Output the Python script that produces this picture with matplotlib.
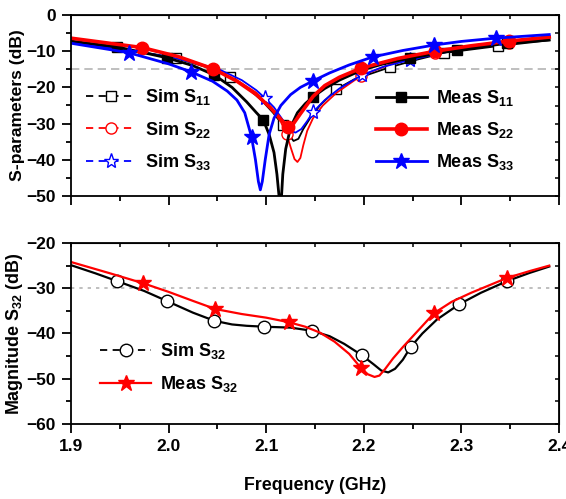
import numpy as np
import matplotlib
matplotlib.use('Agg')
import matplotlib.pyplot as plt
from matplotlib.lines import Line2D
from matplotlib.ticker import MultipleLocator

plt.rcParams['font.family'] = ['Liberation Sans', 'DejaVu Sans']
plt.rcParams['font.weight'] = 'bold'
plt.rcParams['mathtext.fontset'] = 'custom'
plt.rcParams['mathtext.rm'] = 'Liberation Sans:bold'
plt.rcParams['mathtext.bf'] = 'Liberation Sans:bold'
plt.rcParams['mathtext.default'] = 'bf'

# ---- top panel: reflection curves (GHz, dB) ----
f_sim11 = [1.90, 1.953, 2.008, 2.04, 2.063, 2.08, 2.095, 2.107, 2.117, 2.123, 2.128, 2.133, 2.138, 2.145, 2.155, 2.172, 2.19, 2.227, 2.255, 2.282, 2.337, 2.39]
s_sim11 = [-7.3, -9.3, -11.9, -14.5, -17.1, -20.0, -23.5, -27.0, -30.4, -33.0, -34.8, -34.2, -31.5, -28.5, -25.0, -20.5, -17.8, -14.4, -12.3, -10.5, -8.6, -7.0]
f_sim11_mk = [2.008, 2.063, 2.117, 2.172, 2.227, 2.282, 2.337]
s_sim11_mk = [-11.9, -17.1, -30.4, -20.5, -14.4, -10.5, -8.6]

f_sim22 = [1.90, 1.97, 2.01, 2.045, 2.07, 2.09, 2.105, 2.115, 2.121, 2.125, 2.129, 2.132, 2.135, 2.138, 2.142, 2.148, 2.158, 2.172, 2.197, 2.235, 2.273, 2.31, 2.349, 2.39]
s_sim22 = [-6.5, -9.0, -11.5, -14.9, -18.0, -21.5, -25.5, -29.5, -33.0, -36.5, -39.8, -40.6, -39.5, -36.0, -32.0, -28.5, -25.0, -21.5, -16.8, -12.8, -10.5, -8.9, -7.6, -6.3]
f_sim22_mk = [2.121, 2.197, 2.273, 2.349]
s_sim22_mk = [-33.0, -16.8, -10.5, -7.6]

f_sim33 = [1.90, 1.95, 2.00, 2.05, 2.075, 2.09, 2.099, 2.108, 2.117, 2.124, 2.13, 2.136, 2.142, 2.148, 2.16, 2.175, 2.198, 2.22, 2.247, 2.298, 2.347, 2.39]
s_sim33 = [-7.6, -9.5, -11.5, -14.8, -18.0, -20.8, -23.0, -25.5, -29.0, -31.8, -32.5, -31.5, -29.3, -26.8, -23.5, -20.3, -16.6, -14.3, -12.4, -9.5, -7.6, -6.4]
f_sim33_mk = [2.099, 2.148, 2.198, 2.247]
s_sim33_mk = [-23.0, -26.8, -16.6, -12.4]

f_meas11 = [1.90, 1.947, 1.998, 2.025, 2.047, 2.065, 2.08, 2.09, 2.097, 2.103, 2.108, 2.111, 2.1135, 2.1155, 2.117, 2.12, 2.125, 2.132, 2.14, 2.148, 2.16, 2.175, 2.198, 2.22, 2.247, 2.296, 2.347, 2.39]
s_meas11 = [-7.2, -8.8, -11.8, -14.0, -16.6, -20.0, -24.0, -27.0, -29.0, -33.0, -38.0, -44.0, -51.0, -51.0, -44.0, -37.0, -31.0, -27.0, -24.5, -22.6, -20.3, -18.0, -15.2, -13.5, -11.9, -9.7, -7.8, -6.9]
f_meas11_mk = [1.947, 1.998, 2.047, 2.097, 2.148, 2.247, 2.296, 2.347]
s_meas11_mk = [-8.8, -11.8, -16.6, -29.0, -22.6, -11.9, -9.7, -7.8]

f_meas22 = [1.90, 1.973, 2.01, 2.046, 2.07, 2.09, 2.105, 2.115, 2.122, 2.128, 2.135, 2.148, 2.16, 2.175, 2.197, 2.235, 2.273, 2.31, 2.349, 2.39]
s_meas22 = [-6.4, -9.0, -11.5, -14.9, -18.3, -22.0, -25.8, -28.8, -30.9, -30.0, -27.3, -22.5, -19.5, -17.2, -14.7, -12.0, -10.0, -8.5, -7.2, -6.1]
f_meas22_mk = [1.973, 2.046, 2.122, 2.197, 2.273, 2.349]
s_meas22_mk = [-9.0, -14.9, -30.9, -14.7, -10.0, -7.2]

f_meas33 = [1.90, 1.959, 2.00, 2.023, 2.045, 2.06, 2.07, 2.078, 2.085, 2.089, 2.092, 2.094, 2.096, 2.099, 2.103, 2.108, 2.115, 2.125, 2.135, 2.148, 2.165, 2.185, 2.209, 2.24, 2.272, 2.30, 2.335, 2.39]
s_meas33 = [-7.8, -10.4, -13.5, -15.7, -18.3, -21.0, -23.5, -27.0, -33.7, -40.0, -46.0, -48.3, -46.0, -40.0, -33.0, -28.5, -25.0, -22.0, -20.0, -18.2, -16.0, -13.8, -11.6, -9.8, -8.3, -7.3, -6.4, -5.4]
f_meas33_mk = [1.959, 2.023, 2.085, 2.148, 2.209, 2.272, 2.335]
s_meas33_mk = [-10.4, -15.7, -33.7, -18.2, -11.6, -8.3, -6.4]

# ---- bottom panel: isolation S32 ----
f_sim32 = [1.90, 1.925, 1.947, 1.975, 1.998, 2.025, 2.047, 2.065, 2.08, 2.098, 2.125, 2.147, 2.165, 2.18, 2.198, 2.21, 2.218, 2.225, 2.232, 2.24, 2.248, 2.26, 2.275, 2.298, 2.32, 2.347, 2.37, 2.39]
s_sim32 = [-24.9, -26.7, -28.4, -30.6, -32.8, -35.4, -37.2, -38.0, -38.3, -38.5, -38.7, -39.4, -40.6, -42.3, -44.8, -46.8, -48.2, -48.6, -47.8, -45.8, -43.0, -40.0, -36.9, -33.5, -31.0, -28.4, -26.6, -25.2]
f_sim32_mk = [1.947, 1.998, 2.047, 2.098, 2.147, 2.198, 2.248, 2.298, 2.347]
s_sim32_mk = [-28.4, -32.8, -37.2, -38.5, -39.4, -44.8, -43.0, -33.5, -28.4]

f_meas32 = [1.90, 1.94, 1.974, 2.00, 2.025, 2.048, 2.075, 2.10, 2.123, 2.14, 2.155, 2.17, 2.185, 2.197, 2.204, 2.211, 2.216, 2.222, 2.23, 2.24, 2.255, 2.272, 2.29, 2.31, 2.347, 2.37, 2.39]
s_meas32 = [-24.2, -26.7, -28.9, -30.8, -32.8, -34.6, -35.7, -36.5, -37.5, -38.5, -39.8, -41.8, -44.5, -47.6, -49.0, -49.6, -49.3, -47.8, -45.5, -43.0, -39.5, -35.5, -33.0, -31.0, -27.7, -26.2, -25.0]
f_meas32_mk = [1.974, 2.048, 2.123, 2.197, 2.272, 2.347]
s_meas32_mk = [-28.9, -34.6, -37.5, -47.6, -35.5, -27.7]

W, H = 566, 499
fig = plt.figure(figsize=(W / 100, H / 100), dpi=100)
ax1 = fig.add_axes([71 / W, 1 - 196 / H, 488 / W, 181 / H])
ax2 = fig.add_axes([71 / W, 1 - 424 / H, 488 / W, 181 / H])


def style_axis(ax, ymin, ymax):
    ax.set_xlim(1.9, 2.4)
    ax.set_ylim(ymin, ymax)
    ax.xaxis.set_major_locator(MultipleLocator(0.1))
    ax.xaxis.set_minor_locator(MultipleLocator(0.05))
    ax.yaxis.set_major_locator(MultipleLocator(10))
    ax.yaxis.set_minor_locator(MultipleLocator(5))
    for s in ax.spines.values():
        s.set_linewidth(1.3)
    ax.tick_params(axis='both', which='major', direction='out', length=6.5, width=1.3, labelsize=12.5, pad=4.5)
    ax.tick_params(axis='both', which='minor', direction='out', length=3.8, width=1.3)
    # mirrored inward ticks on top and right
    tx = ax.secondary_xaxis('top')
    tx.xaxis.set_major_locator(MultipleLocator(0.05))
    tx.tick_params(direction='in', length=3, width=1.1, labeltop=False)
    ty = ax.secondary_yaxis('right')
    ty.yaxis.set_major_locator(MultipleLocator(5))
    ty.tick_params(direction='in', length=3, width=1.1, labelright=False)


style_axis(ax1, -50, 0)
style_axis(ax2, -60, -20)
ax1.tick_params(axis='x', labelbottom=False)

ax1.axhline(-15, color='#b4b4b4', lw=1.2, ls=(0, (5, 3)), zorder=0)
ax2.axhline(-30, color='#b4b4b4', lw=1.2, ls=(0, (2, 3)), zorder=0)

# simulated curves (thin) and measured (thick)
ax1.plot(f_sim11, s_sim11, color='black', lw=1.3)
ax1.plot(f_sim11_mk, s_sim11_mk, ls='none', marker='s', ms=7, mfc='white', mec='black', mew=1)
ax1.plot(f_sim22, s_sim22, color='red', lw=1.3)
ax1.plot(f_sim22_mk, s_sim22_mk, ls='none', marker='o', ms=8, mfc='white', mec='red', mew=1)
ax1.plot(f_sim33, s_sim33, color='blue', lw=1.3)
ax1.plot(f_sim33_mk, s_sim33_mk, ls='none', marker='*', ms=11, mfc='white', mec='blue', mew=1)

ax1.plot(f_meas11, s_meas11, color='black', lw=2)
ax1.plot(f_meas11_mk, s_meas11_mk, ls='none', marker='s', ms=7.5, color='black')
ax1.plot(f_meas22, s_meas22, color='red', lw=2.6)
ax1.plot(f_meas22_mk, s_meas22_mk, ls='none', marker='o', ms=9, color='red')
ax1.plot(f_meas33, s_meas33, color='blue', lw=2)
ax1.plot(f_meas33_mk, s_meas33_mk, ls='none', marker='*', ms=12, color='blue')

ax2.plot(f_sim32, s_sim32, color='black', lw=1.6)
ax2.plot(f_sim32_mk, s_sim32_mk, ls='none', marker='o', ms=9, mfc='white', mec='black', mew=1)
ax2.plot(f_meas32, s_meas32, color='red', lw=1.6)
ax2.plot(f_meas32_mk, s_meas32_mk, ls='none', marker='*', ms=12, color='red')

# legends
dash = (0, (4, 3))
sim_h = [Line2D([], [], color='black', lw=1.3, ls=dash, marker='s', ms=7, mfc='white', mec='black'),
         Line2D([], [], color='red', lw=1.3, ls=dash, marker='o', ms=8, mfc='white', mec='red'),
         Line2D([], [], color='blue', lw=1.3, ls=dash, marker='*', ms=11, mfc='white', mec='blue')]
meas_h = [Line2D([], [], color='black', lw=2, marker='s', ms=7.5),
          Line2D([], [], color='red', lw=2.6, marker='o', ms=9),
          Line2D([], [], color='blue', lw=2, marker='*', ms=12)]
leg_kw = dict(frameon=False, fontsize=13, handlelength=2.8, handletextpad=0.5, labelspacing=0.68, borderpad=0, borderaxespad=0)
l1 = ax1.legend(sim_h, ['Sim S$_{11}$', 'Sim S$_{22}$', 'Sim S$_{33}$'], loc='upper left',
                bbox_to_anchor=(0.03, 0.60), **leg_kw)
ax1.add_artist(l1)
ax1.legend(meas_h, ['Meas S$_{11}$', 'Meas S$_{22}$', 'Meas S$_{33}$'], loc='upper left',
           bbox_to_anchor=(0.625, 0.597), **leg_kw)

h32 = [Line2D([], [], color='black', lw=1.3, ls=dash, marker='o', ms=9, mfc='white', mec='black'),
       Line2D([], [], color='red', lw=1.6, marker='*', ms=12)]
leg_kw['labelspacing'] = 0.72
ax2.legend(h32, ['Sim S$_{32}$', 'Meas S$_{32}$'], loc='upper left', bbox_to_anchor=(0.06, 0.458), **leg_kw)

ax1.set_ylabel('S-parameters (dB)', fontsize=12.6, fontweight='bold', labelpad=1)
ax2.set_ylabel('Magnitude S$_{32}$ (dB)', fontsize=12.9, fontweight='bold', labelpad=1)
ax2.set_xlabel('Frequency (GHz)', fontsize=12.8, fontweight='bold', labelpad=16)

fig.savefig('out.png', dpi=100)
